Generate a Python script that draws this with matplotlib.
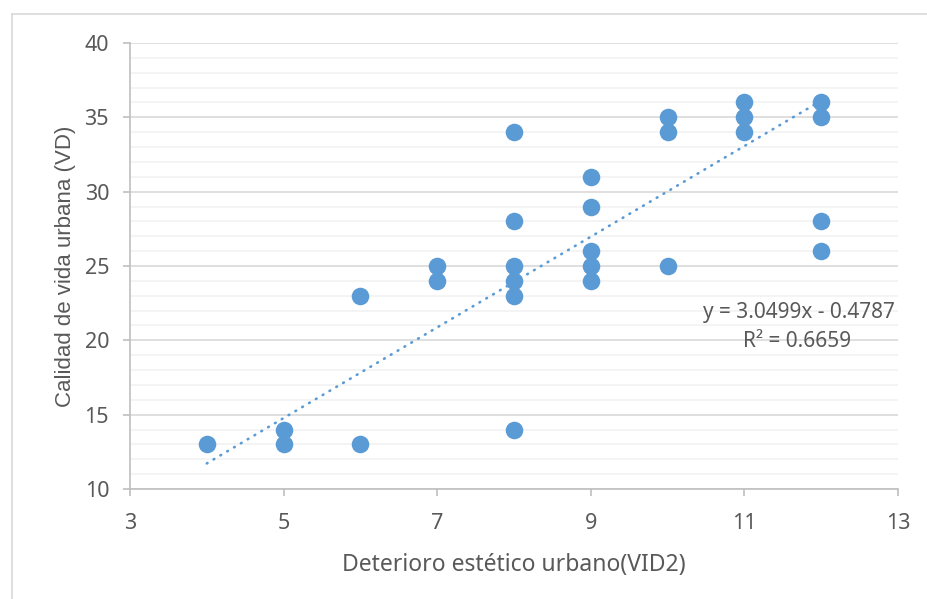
import matplotlib.pyplot as plt
from matplotlib.lines import Line2D
import numpy as np

plt.rcParams['font.family'] = ['Noto Sans', 'DejaVu Sans']

# data
vid2 = [4, 5, 5, 6, 6, 7, 7,
        8, 8, 8, 8, 8, 8,
        9, 9, 9, 9, 9,
        10, 10, 10,
        11, 11, 11,
        12, 12, 12, 12]
vd = [13, 14, 13, 23, 13, 25, 24,
      34, 28, 25, 24, 23, 14,
      31, 29, 26, 25, 24,
      35, 34, 25,
      36, 35, 34,
      36, 35, 28, 26]

slope = 3.0499
intercept = -0.4787
r2 = 0.6659

blue = '#5B9BD5'
grey = '#595959'

fig = plt.figure(figsize=(9.28, 5.99), dpi=100)
ax = fig.add_axes([130/928, 1 - 489/599, 768/928, 446/599])

# chart border (Excel style)
fig.add_artist(Line2D([12/928, 12/928], [0, 1 - 14/599], color='#D9D9D9', lw=1.2))
fig.add_artist(Line2D([12/928, 1], [1 - 14/599, 1 - 14/599], color='#D9D9D9', lw=1.2))

ax.set_xlim(3, 13)
ax.set_ylim(10, 40)
ax.set_xticks(np.arange(3, 14, 2))
ax.set_yticks(np.arange(10, 41, 5))
ax.set_yticks(np.arange(10, 41, 1), minor=True)

ax.grid(axis='y', which='major', color='#D9D9D9', lw=1.2, zorder=0)
ax.grid(axis='y', which='minor', color='#F2F2F2', lw=1.2, zorder=0)
ax.set_axisbelow(True)

for s in ['top', 'right']:
    ax.spines[s].set_visible(False)
for s in ['left', 'bottom']:
    ax.spines[s].set_color('#BFBFBF')
    ax.spines[s].set_linewidth(1.2)

ax.tick_params(axis='both', which='major', length=5, width=1.2, color='#BFBFBF',
               labelsize=15.5, labelcolor=grey)
ax.tick_params(axis='y', which='minor', length=0)
ax.tick_params(axis='y', pad=10)
ax.tick_params(axis='x', pad=12)

ax.scatter(vid2, vd, s=160, color=blue, zorder=3, linewidths=0)

xs = np.array([min(vid2), max(vid2)])
ax.plot(xs, slope * xs + intercept, color=blue, lw=1.9,
        linestyle=(0, (0.3, 2.7)), dash_capstyle='round', zorder=2)

ax.text(12.96, 21.85, 'y = %.4fx - %.4f' % (slope, -intercept), ha='right',
        va='center', fontsize=15, color=grey)
ax.text(11.68, 19.95, 'R² = %.4f' % r2, ha='center', va='center',
        fontsize=15, color=grey)

ax.set_xlabel('Deterioro estético urbano(VID2)', fontsize=16.5, color=grey, labelpad=14)
ax.set_ylabel('Calidad de vida urbana (VD)', fontsize=16, color=grey, labelpad=6,
              family=['Liberation Sans', 'DejaVu Sans'])

fig.savefig('out.png', dpi=100)
